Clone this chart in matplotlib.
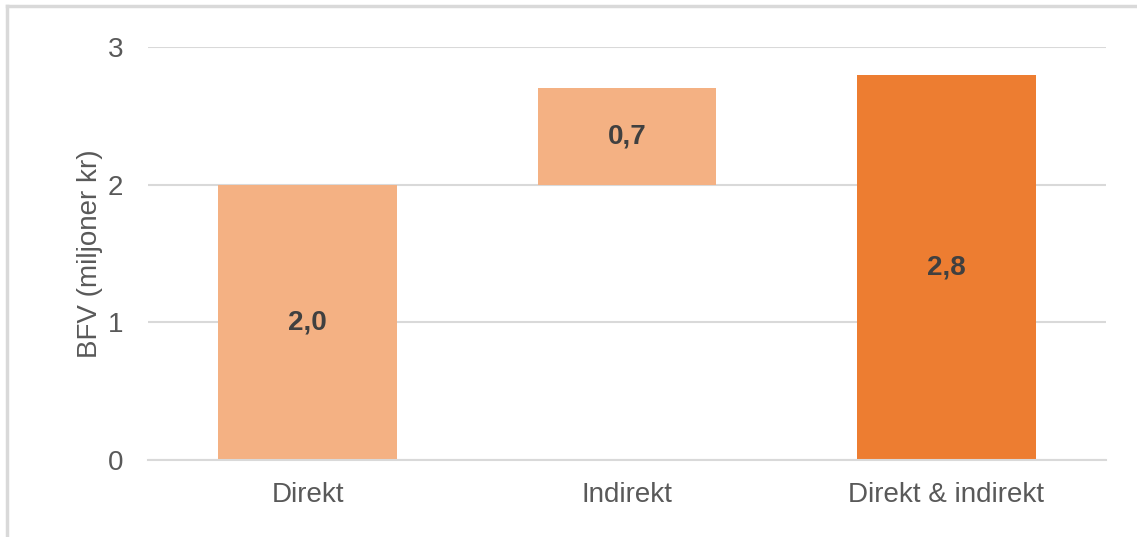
import matplotlib.pyplot as plt
from matplotlib.lines import Line2D

# data
categories = ['Direkt', 'Indirekt', 'Direkt & indirekt']
bar_bottoms = [0.0, 2.0, 0.0]
bar_heights = [2.0, 0.7, 2.8]
bar_labels = ['2,0', '0,7', '2,8']
bar_colors = ['#F4B183', '#F4B183', '#ED7D31']
y_ticks = [0, 1, 2, 3]

plt.rcParams['font.family'] = ['Liberation Sans', 'DejaVu Sans']

fig = plt.figure(figsize=(11.37, 5.37), dpi=100)
ax = fig.add_axes([0.1302, 0.1434, 0.8425, 0.7691])

x = range(len(categories))
ax.bar(x, bar_heights, bottom=bar_bottoms, width=0.56, color=bar_colors, zorder=2)

for i, (b, h, lab) in enumerate(zip(bar_bottoms, bar_heights, bar_labels)):
    ax.text(i, b + h / 2, lab, ha='center', va='center', fontsize=20,
            fontweight='bold', color='#404040', zorder=3)

ax.set_xlim(-0.5, 2.5)
ax.set_ylim(0, 3)
ax.set_yticks(y_ticks)
ax.set_yticklabels([str(t) for t in y_ticks])
ax.set_xticks(list(x))
ax.set_xticklabels(categories)
ax.yaxis.grid(True, color='#D9D9D9', linewidth=1.5, zorder=0)
ax.set_axisbelow(True)
ax.tick_params(axis='both', length=0, labelsize=20, labelcolor='#595959')
ax.tick_params(axis='y', pad=18)
ax.tick_params(axis='x', pad=16)
for s in ['top', 'right', 'left']:
    ax.spines[s].set_visible(False)
ax.spines['bottom'].set_color('#D9D9D9')
ax.spines['bottom'].set_linewidth(1.5)

ax.set_ylabel('BFV (miljoner kr)', fontsize=20, color='#595959', labelpad=3)

# outer frame (top and left edges visible in the screenshot)
fig.add_artist(Line2D([7 / 1137, 7 / 1137], [0, 1 - 6 / 537], transform=fig.transFigure,
                      color='#D9D9D9', linewidth=2.5))
fig.add_artist(Line2D([7 / 1137, 1], [1 - 6 / 537, 1 - 6 / 537], transform=fig.transFigure,
                      color='#D9D9D9', linewidth=2.5))

fig.savefig('out.png', dpi=100)
